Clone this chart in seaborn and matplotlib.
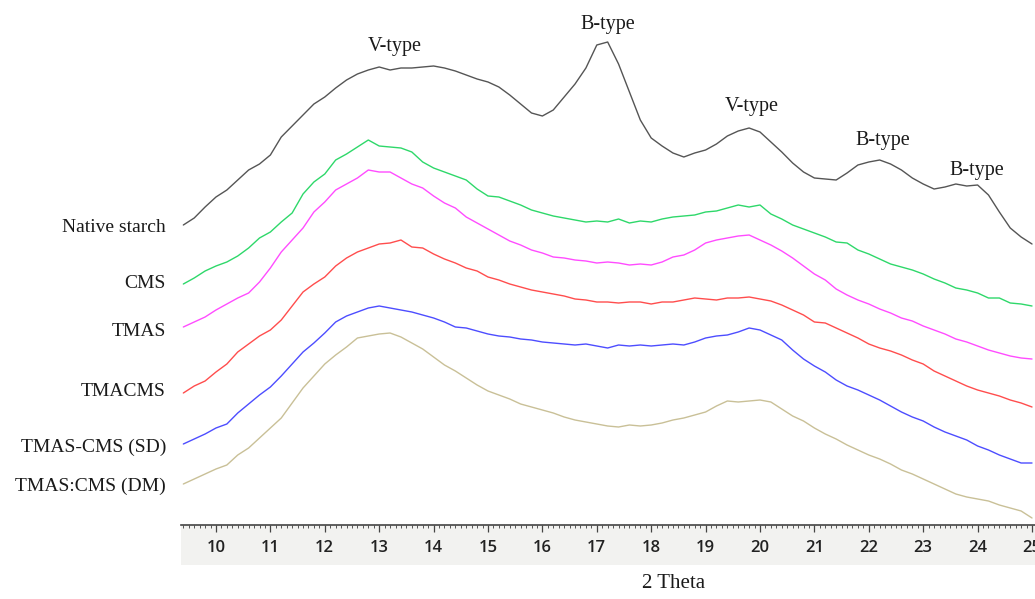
"""XRD patterns of native starch and modified starch samples (stacked)."""

import matplotlib
matplotlib.use("Agg")
import matplotlib.pyplot as plt
import matplotlib.transforms as mtransforms
from matplotlib.patches import Rectangle
from matplotlib.ticker import MultipleLocator
import numpy as np
import pandas as pd
import seaborn as sns

# 2 theta grid of the read-off points (degrees)
two_theta = np.round(np.arange(9.4, 25.01, 0.2), 2)

# stacked intensities (a.u., offsets included)
native_starch = [300, 307, 318, 328, 335, 345, 355, 361, 370, 388, 399, 410, 421, 428,
                 437, 445, 451, 455, 458, 455, 457, 457, 458, 459, 457, 454, 450, 446,
                 443, 438, 430, 421, 412, 409, 415, 428, 441, 457, 480, 483, 461, 433,
                 405, 387, 379, 372, 368, 372, 375, 381, 389, 394, 397, 393, 383, 373,
                 362, 353, 347, 346, 345, 352, 360, 363, 365, 361, 355, 347, 341, 336,
                 338, 341, 339, 340, 330, 313, 297, 288, 281]
cms = [241, 247, 254, 259, 263, 269, 277, 287, 293, 303, 312, 331, 343, 351, 365,
       371, 378, 385, 379, 378, 377, 373, 363, 357, 353, 349, 345, 336, 329, 328,
       324, 320, 315, 312, 309, 307, 305, 303, 304, 303, 306, 302, 304, 303, 306,
       308, 309, 310, 313, 314, 317, 320, 318, 320, 311, 306, 300, 296, 292, 288,
       283, 282, 275, 271, 266, 261, 258, 255, 251, 246, 242, 237, 235, 232, 227,
       227, 222, 221, 219]
tmas = [198, 203, 208, 215, 221, 227, 232, 243, 257, 273, 285, 297, 313, 323, 335,
        341, 347, 355, 353, 353, 347, 341, 337, 329, 322, 317, 308, 302, 296, 290,
        284, 280, 275, 272, 268, 267, 265, 264, 262, 263, 262, 260, 261, 260, 263,
        268, 270, 275, 282, 285, 287, 289, 290, 285, 280, 274, 267, 259, 251, 245,
        236, 230, 225, 221, 216, 212, 207, 204, 199, 195, 191, 186, 183, 179, 175,
        172, 169, 167, 166]
tmacms = [132, 139, 144, 153, 161, 173, 181, 189, 195, 205, 219, 233, 241, 248, 259,
          267, 273, 277, 281, 282, 285, 278, 277, 271, 266, 262, 257, 254, 248, 245,
          241, 238, 235, 233, 231, 229, 226, 225, 223, 223, 222, 223, 223, 221, 223,
          223, 225, 227, 226, 225, 227, 227, 228, 226, 224, 220, 215, 210, 203, 202,
          197, 192, 187, 181, 177, 174, 170, 165, 161, 154, 149, 144, 139, 135, 132,
          129, 125, 122, 118]
tmas_cms_sd = [81, 86, 91, 97, 101, 112, 121, 130, 138, 149, 161, 173, 182, 192, 203,
               209, 213, 217, 219, 217, 215, 213, 210, 207, 203, 198, 197, 194, 191,
               189, 188, 186, 185, 183, 182, 181, 180, 181, 179, 177, 180, 179, 180,
               179, 180, 181, 180, 183, 187, 189, 190, 193, 197, 195, 190, 185, 175,
               166, 159, 153, 145, 139, 135, 130, 125, 119, 113, 108, 104, 98, 93, 89,
               85, 79, 75, 70, 66, 62, 62]
tmas_cms_dm = [41, 46, 51, 56, 60, 70, 77, 87, 97, 107, 122, 137, 149, 161, 170, 178,
               187, 189, 191, 192, 188, 182, 176, 168, 160, 154, 147, 140, 134, 130,
               126, 121, 118, 115, 112, 108, 105, 103, 101, 99, 98, 100, 99, 100, 102,
               105, 107, 110, 113, 119, 124, 123, 124, 125, 123, 116, 109, 104, 97, 91,
               86, 80, 75, 70, 66, 61, 55, 51, 46, 41, 36, 31, 28, 26, 24, 20, 17, 14, 7]

sample_names = ["Native starch", "CMS", "TMAS", "TMACMS", "TMAS-CMS (SD)", "TMAS:CMS (DM)"]
sample_colors = ["#555555", "#2ed86a", "#ff4cff", "#ff4d4d", "#4d4dff", "#c9c097"]
label_levels = [297, 242, 193, 133, 78, 39]

peak_labels = ["V-type", "B-type", "V-type", "B-type", "B-type"]
peak_theta = [13.29, 17.2, 19.85, 22.26, 23.99]
peak_height = [478, 501, 419, 384, 355]

series = [native_starch, cms, tmas, tmacms, tmas_cms_sd, tmas_cms_dm]
df = pd.concat(
    [pd.DataFrame({"two_theta": two_theta, "intensity": vals, "sample": name})
     for name, vals in zip(sample_names, series)],
    ignore_index=True,
)

sns.set_theme(style="white")
plt.rcParams["font.family"] = ["Liberation Serif", "DejaVu Serif"]

W, H = 1035, 599
fig = plt.figure(figsize=(W / 100, H / 100), dpi=100)
ax = fig.add_axes([181 / W, (H - 525) / H, (W - 181) / W, 525 / H])
ax.patch.set_alpha(0)

# light grey band behind the tick labels
fig.patches.append(Rectangle((181 / W, (H - 565) / H), (W - 181) / W, 40 / H,
                             transform=fig.transFigure, facecolor="#f2f2f0",
                             edgecolor="none", zorder=-5))

sns.lineplot(data=df, x="two_theta", y="intensity", hue="sample",
             palette=dict(zip(sample_names, sample_colors)), hue_order=sample_names,
             estimator=None, sort=False, linewidth=1.0, legend=False, ax=ax)

ax.set_xlim(9.357, 25.055)
ax.set_ylim(0, 525)
ax.set_yticks([])
ax.set_xlabel("")
ax.set_ylabel("")
for side in ["left", "right", "top"]:
    ax.spines[side].set_visible(False)
ax.spines["bottom"].set_color("#444444")
ax.spines["bottom"].set_linewidth(1.2)

ax.xaxis.set_major_locator(MultipleLocator(1))
ax.xaxis.set_minor_locator(MultipleLocator(0.1))
ax.tick_params(axis="x", which="both", bottom=True, labelbottom=True)
ax.tick_params(axis="x", which="major", direction="out", length=5, width=0.9,
               color="#444444", pad=6, labelsize=12, labelcolor="#222222")
ax.tick_params(axis="x", which="minor", direction="out", length=2.5, width=0.7,
               color="#555555")
for lab in ax.get_xticklabels():
    lab.set_fontfamily(["Open Sans", "DejaVu Sans"])
    lab.set_fontweight("semibold")

# sample names sit left of the axes: figure x, data y
name_tf = mtransforms.blended_transform_factory(fig.transFigure, ax.transData)
for name, level in zip(sample_names, label_levels):
    ax.text(166 / W, level, name, transform=name_tf, ha="right", va="center",
            fontsize=14, color="#1a1a1a")

for lab, th, h in zip(peak_labels, peak_theta, peak_height):
    ax.text(th, h, lab, ha="center", va="center", fontsize=14.5, color="#1a1a1a")

fig.text(674 / W, (H - 584) / H, "2 Theta", ha="center", va="center",
         fontsize=15, color="#1a1a1a")

fig.savefig("out.png", dpi=100)
